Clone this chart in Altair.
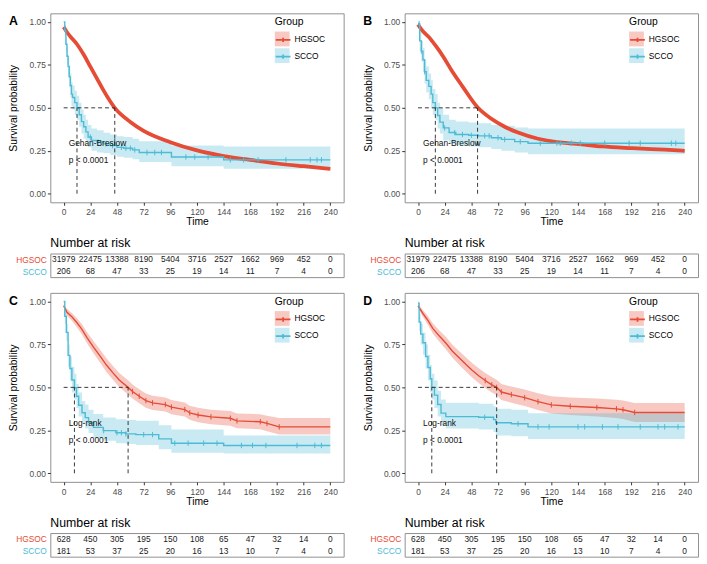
import altair as alt
import pandas as pd

RED = "#E64B35"
BLUE = "#4DBBD5"
GROUPS = ["HGSOC", "SCCO"]
TIME_TICKS = [0, 24, 48, 72, 96, 120, 144, 168, 192, 216, 240]
SURV_TICKS = [0, 0.25, 0.5, 0.75, 1.0]

# ---------------- Panel A ----------------
A_HGSOC_T = [0, 3, 6, 12, 18, 24, 30, 36, 46, 60, 72, 96, 120, 144, 168, 192, 216, 240]
A_HGSOC_S = [0.97, 0.94, 0.915, 0.87, 0.81, 0.74, 0.67, 0.60, 0.50, 0.418, 0.366, 0.30, 0.252, 0.219, 0.197, 0.176, 0.16, 0.145]
A_HGSOC_LO = [0.962, 0.932, 0.907, 0.862, 0.802, 0.732, 0.662, 0.592, 0.492, 0.410, 0.358, 0.292, 0.244, 0.211, 0.189, 0.168, 0.152, 0.137]
A_HGSOC_HI = [0.978, 0.948, 0.923, 0.878, 0.818, 0.748, 0.678, 0.608, 0.508, 0.426, 0.374, 0.308, 0.260, 0.227, 0.205, 0.184, 0.168, 0.153]

A_SCCO_T = [0, 1, 2, 3, 4, 5, 6, 7, 8, 10, 12, 14, 16, 18, 20, 22, 25, 30, 36, 42, 48, 54, 62, 68, 97, 144, 240]
A_SCCO_S = [1.00, 0.95, 0.87, 0.80, 0.74, 0.68, 0.63, 0.58, 0.56, 0.53, 0.50, 0.46, 0.42, 0.39, 0.36, 0.33, 0.31, 0.30, 0.29, 0.28, 0.27, 0.265, 0.255, 0.24, 0.214, 0.197, 0.197]
A_SCCO_LO = [1.00, 0.92, 0.83, 0.75, 0.68, 0.62, 0.56, 0.51, 0.49, 0.46, 0.43, 0.39, 0.35, 0.32, 0.30, 0.27, 0.25, 0.24, 0.235, 0.225, 0.215, 0.21, 0.20, 0.185, 0.16, 0.145, 0.145]
A_SCCO_HI = [1.00, 0.98, 0.91, 0.85, 0.80, 0.75, 0.70, 0.65, 0.63, 0.60, 0.57, 0.53, 0.49, 0.46, 0.43, 0.40, 0.38, 0.37, 0.355, 0.345, 0.335, 0.33, 0.32, 0.305, 0.28, 0.275, 0.275]
A_SCCO_CENS = [24, 31, 38, 44, 52, 56, 60, 64, 75, 82, 88, 110, 118, 130, 150, 162, 175, 200, 222, 228, 232]

# ---------------- Panel B ----------------
B_HGSOC_T = [0, 3, 10, 16, 22, 31, 40, 54, 66, 78, 90, 108, 125, 143, 166, 193, 222, 240]
B_HGSOC_S = [0.985, 0.956, 0.91, 0.86, 0.805, 0.71, 0.625, 0.50, 0.436, 0.39, 0.356, 0.32, 0.30, 0.29, 0.275, 0.265, 0.256, 0.25]
B_HGSOC_LO = [0.977, 0.948, 0.902, 0.852, 0.797, 0.702, 0.617, 0.492, 0.428, 0.382, 0.348, 0.312, 0.292, 0.282, 0.267, 0.257, 0.248, 0.242]
B_HGSOC_HI = [0.993, 0.964, 0.918, 0.868, 0.813, 0.718, 0.633, 0.508, 0.444, 0.398, 0.364, 0.328, 0.308, 0.298, 0.283, 0.273, 0.264, 0.258]

B_SCCO_T = [0, 1.5, 3, 4.4, 5.9, 7.4, 9.7, 11.8, 13.3, 15.6, 17.7, 19.7, 22.7, 28, 34, 45.6, 54.5, 66, 75, 87, 99, 240]
B_SCCO_S = [0.99, 0.89, 0.83, 0.78, 0.71, 0.66, 0.625, 0.58, 0.53, 0.50, 0.455, 0.417, 0.383, 0.356, 0.345, 0.34, 0.337, 0.326, 0.316, 0.303, 0.294, 0.294]
B_SCCO_LO = [0.98, 0.83, 0.77, 0.71, 0.64, 0.59, 0.55, 0.50, 0.46, 0.43, 0.38, 0.35, 0.31, 0.29, 0.28, 0.275, 0.27, 0.26, 0.25, 0.24, 0.23, 0.23]
B_SCCO_HI = [1.0, 0.94, 0.89, 0.85, 0.78, 0.74, 0.70, 0.66, 0.61, 0.58, 0.53, 0.50, 0.46, 0.43, 0.42, 0.415, 0.41, 0.40, 0.395, 0.385, 0.38, 0.38]
B_SCCO_CENS = [1, 3, 6, 24, 33, 40, 48, 60, 64, 72, 78, 92, 110, 125, 128, 138, 146, 168, 190, 200, 228, 232]

# ---------------- Panel C ----------------
C_HGSOC_T = [0, 3, 7.6, 12, 16.5, 21, 27, 33, 38.5, 44, 50, 58, 62, 68, 74, 80, 91.5, 97, 109, 113.5, 121, 132.6, 150, 156, 177, 183, 194, 240]
C_HGSOC_S = [0.975, 0.937, 0.909, 0.876, 0.838, 0.79, 0.733, 0.68, 0.63, 0.587, 0.543, 0.50, 0.476, 0.448, 0.423, 0.41, 0.40, 0.385, 0.371, 0.352, 0.339, 0.328, 0.32, 0.305, 0.30, 0.29, 0.27, 0.27]
C_HGSOC_LO = [0.963, 0.917, 0.886, 0.849, 0.808, 0.757, 0.697, 0.642, 0.59, 0.547, 0.502, 0.459, 0.435, 0.407, 0.382, 0.369, 0.359, 0.344, 0.33, 0.311, 0.297, 0.286, 0.277, 0.262, 0.256, 0.245, 0.225, 0.225]
C_HGSOC_HI = [0.985, 0.957, 0.932, 0.903, 0.868, 0.823, 0.769, 0.718, 0.67, 0.627, 0.584, 0.541, 0.517, 0.489, 0.464, 0.451, 0.441, 0.426, 0.412, 0.393, 0.381, 0.370, 0.363, 0.348, 0.344, 0.335, 0.322, 0.322]

C_SCCO_T = [0, 1, 2.4, 4, 5.6, 7.4, 9.7, 11.5, 13.5, 16.5, 19.4, 22.4, 26.8, 35.6, 47, 56, 65, 85.6, 97, 144, 240]
C_SCCO_S = [1.0, 0.914, 0.82, 0.686, 0.61, 0.543, 0.498, 0.448, 0.396, 0.352, 0.324, 0.295, 0.267, 0.248, 0.236, 0.229, 0.225, 0.20, 0.175, 0.162, 0.162]
C_SCCO_LO = [1.0, 0.87, 0.77, 0.62, 0.54, 0.47, 0.43, 0.38, 0.33, 0.29, 0.26, 0.235, 0.205, 0.19, 0.175, 0.17, 0.165, 0.14, 0.12, 0.115, 0.115]
C_SCCO_HI = [1.0, 0.95, 0.87, 0.75, 0.68, 0.62, 0.58, 0.52, 0.47, 0.42, 0.40, 0.37, 0.345, 0.325, 0.315, 0.31, 0.305, 0.28, 0.255, 0.22, 0.22]
C_SCCO_CENS = [36, 48, 52, 56, 72, 80, 100, 112, 126, 138, 160, 170, 182, 210, 226, 232]

# ---------------- Panel D ----------------
D_HGSOC_T = [0, 4.4, 8.9, 13.3, 19, 25, 31, 37, 43, 48.7, 54.6, 60.5, 66.4, 70.8, 75, 84, 96, 108, 120, 137, 161, 178.6, 184.5, 195, 240]
D_HGSOC_S = [0.975, 0.93, 0.89, 0.843, 0.80, 0.758, 0.71, 0.672, 0.634, 0.60, 0.568, 0.54, 0.515, 0.50, 0.473, 0.458, 0.44, 0.417, 0.398, 0.39, 0.383, 0.375, 0.37, 0.354, 0.354]
D_HGSOC_LO = [0.963, 0.91, 0.865, 0.813, 0.767, 0.722, 0.672, 0.632, 0.593, 0.558, 0.525, 0.496, 0.47, 0.455, 0.427, 0.411, 0.392, 0.368, 0.348, 0.339, 0.331, 0.322, 0.316, 0.299, 0.299]
D_HGSOC_HI = [0.987, 0.95, 0.915, 0.873, 0.833, 0.794, 0.748, 0.712, 0.675, 0.642, 0.611, 0.584, 0.56, 0.545, 0.519, 0.505, 0.488, 0.466, 0.448, 0.441, 0.435, 0.428, 0.424, 0.409, 0.409]

D_SCCO_T = [0, 1, 2.4, 4.4, 6.8, 8.9, 11, 12.4, 14.8, 17.7, 20.7, 25, 54.6, 68, 70, 84, 99, 240]
D_SCCO_S = [0.99, 0.88, 0.81, 0.76, 0.68, 0.616, 0.55, 0.50, 0.455, 0.40, 0.35, 0.33, 0.326, 0.312, 0.294, 0.288, 0.27, 0.27]
D_SCCO_LO = [0.97, 0.83, 0.75, 0.69, 0.61, 0.54, 0.47, 0.43, 0.38, 0.33, 0.28, 0.26, 0.255, 0.24, 0.22, 0.215, 0.20, 0.20]
D_SCCO_HI = [1.0, 0.93, 0.87, 0.82, 0.75, 0.69, 0.63, 0.58, 0.54, 0.48, 0.43, 0.41, 0.405, 0.39, 0.375, 0.37, 0.35, 0.35]
D_SCCO_CENS = [60, 90, 108, 118, 144, 150, 166, 180, 200, 216, 222, 234]

# ---------------- annotations / medians / risk table ----------------
METHODS = {"A": "Gehan-Breslow", "B": "Gehan-Breslow", "C": "Log-rank", "D": "Log-rank"}
P_TEXT = "p < 0.0001"
TEXT_X = 4.5
TEXT_Y = [0.295, 0.195]
MEDIANS = {"A": [12, 46], "B": [15.6, 53.6], "C": [9.7, 58], "D": [12.4, 70.8]}

RISK_AB_HGSOC = [31979, 22475, 13388, 8190, 5404, 3716, 2527, 1662, 969, 452, 0]
RISK_AB_SCCO = [206, 68, 47, 33, 25, 19, 14, 11, 7, 4, 0]
RISK_CD_HGSOC = [628, 450, 305, 195, 150, 108, 65, 47, 32, 14, 0]
RISK_CD_SCCO = [181, 53, 37, 25, 20, 16, 13, 10, 7, 4, 0]

CURVES = {
    ("A", "HGSOC"): (A_HGSOC_T, A_HGSOC_S, A_HGSOC_LO, A_HGSOC_HI, "smooth"),
    ("A", "SCCO"): (A_SCCO_T, A_SCCO_S, A_SCCO_LO, A_SCCO_HI, "step"),
    ("B", "HGSOC"): (B_HGSOC_T, B_HGSOC_S, B_HGSOC_LO, B_HGSOC_HI, "smooth"),
    ("B", "SCCO"): (B_SCCO_T, B_SCCO_S, B_SCCO_LO, B_SCCO_HI, "step"),
    ("C", "HGSOC"): (C_HGSOC_T, C_HGSOC_S, C_HGSOC_LO, C_HGSOC_HI, "linear"),
    ("C", "SCCO"): (C_SCCO_T, C_SCCO_S, C_SCCO_LO, C_SCCO_HI, "step"),
    ("D", "HGSOC"): (D_HGSOC_T, D_HGSOC_S, D_HGSOC_LO, D_HGSOC_HI, "linear"),
    ("D", "SCCO"): (D_SCCO_T, D_SCCO_S, D_SCCO_LO, D_SCCO_HI, "step"),
}
CENSORS = {"A": A_SCCO_CENS, "B": B_SCCO_CENS, "C": C_SCCO_CENS, "D": D_SCCO_CENS}
RISK = {
    "A": (RISK_AB_HGSOC, RISK_AB_SCCO), "B": (RISK_AB_HGSOC, RISK_AB_SCCO),
    "C": (RISK_CD_HGSOC, RISK_CD_SCCO), "D": (RISK_CD_HGSOC, RISK_CD_SCCO),
}


def step_value(ts, ss, t):
    v = ss[0]
    for tk, sk in zip(ts, ss):
        if tk <= t:
            v = sk
    return v


curve_rows, cens_rows = [], []
for (p, g), (ts, ss, lo, hi, kind) in CURVES.items():
    for t, s, l, h in zip(ts, ss, lo, hi):
        curve_rows.append({"panel": p, "group": g, "kind": kind, "time": t, "surv": s, "lo": l, "hi": h})
    if kind == "linear":
        for t, s in zip(ts, ss):
            if 60 <= t < 240:
                cens_rows.append({"panel": p, "group": g, "time": t, "surv": s})
for p, cl in CENSORS.items():
    ts, ss = CURVES[(p, "SCCO")][0], CURVES[(p, "SCCO")][1]
    for t in cl:
        cens_rows.append({"panel": p, "group": "SCCO", "time": t, "surv": step_value(ts, ss, t)})
curves_df = pd.DataFrame(curve_rows)
cens_df = pd.DataFrame(cens_rows)

W = 298
H = 192
TH = 24
INTERP = {"smooth": "monotone", "linear": "linear", "step": "step-after"}
X_SCALE = alt.Scale(domain=[-12, 252], nice=False, zero=False)
Y_SCALE = alt.Scale(domain=[-0.05, 1.05], nice=False, zero=False)


def xenc(field):
    return alt.X(f"{field}:Q", scale=X_SCALE,
                 axis=alt.Axis(values=TIME_TICKS, title="Time", titlePadding=1, labelPadding=2.5))


def yenc(field):
    return alt.Y(f"{field}:Q", scale=Y_SCALE,
                 axis=alt.Axis(values=SURV_TICKS, format=".2f", title="Survival probability",
                               titlePadding=10.5, labelPadding=2))


LEG_X, LEG_Y = 228, 4
TITLE_FS, TITLE_PAD = 10.5, 4
FILL_LEGEND = alt.Legend(title="Group", orient="none", legendX=LEG_X, legendY=LEG_Y,
                         symbolType="square", symbolSize=225, symbolOpacity=0.3,
                         symbolStrokeWidth=0, titleFontSize=TITLE_FS, titleFontWeight="normal",
                         labelFontSize=8.5, titlePadding=TITLE_PAD, rowPadding=2, labelOffset=5,
                         padding=0, titleColor="#000", labelColor="#000")
# line-with-censor-mark symbols drawn on top of the squares (no title, no labels)
STROKE_LEGEND = alt.Legend(title=None, orient="none", legendX=LEG_X,
                           legendY=LEG_Y + TITLE_FS + TITLE_PAD,
                           symbolType="M-1,0L1,0M0,-0.3L0,0.3", symbolSize=225, symbolOpacity=1,
                           symbolStrokeWidth=1.8, symbolFillColor="transparent",
                           labelFontSize=8.5, rowPadding=2, labelOffset=5, labelExpr="''",
                           padding=0)


def fill_enc():
    return alt.Fill("group:N", scale=alt.Scale(range=[RED, BLUE]), legend=FILL_LEGEND)


def stroke_enc():
    return alt.Stroke("group:N", scale=alt.Scale(domain=GROUPS, range=[RED, BLUE]), legend=STROKE_LEGEND)


def km_chart(p):
    cdf = curves_df[curves_df.panel == p]
    kinds = [k for k in ["smooth", "linear", "step"] if (cdf.kind == k).any()]
    bands, lines = [], []
    for k in kinds:
        sub = cdf[cdf.kind == k]
        bands.append(alt.Chart(sub).mark_area(interpolate=INTERP[k], opacity=0.3).encode(
            x=xenc("time"), y=yenc("lo"), y2=alt.Y2("hi:Q"), fill=fill_enc()))
        lines.append(alt.Chart(sub).mark_line(interpolate=INTERP[k],
                                              strokeWidth=3.8 if k == "smooth" else 1.4).encode(
            x=xenc("time"), y=yenc("surv"), stroke=stroke_enc()))
    cens = alt.Chart(cens_df[cens_df.panel == p]).mark_point(
        shape="M0,-1L0,1", filled=False, size=30, strokeWidth=1, opacity=1).encode(
        x=xenc("time"), y=yenc("surv"), stroke=stroke_enc())
    meds = MEDIANS[p]
    hdf = pd.DataFrame({"x": [0], "x2": [max(meds)], "y": [0.5]})
    vdf = pd.DataFrame({"x": meds, "y": [0.0] * len(meds), "y2": [0.5] * len(meds)})
    hrule = alt.Chart(hdf).mark_rule(strokeDash=[4, 3], color="#222", strokeWidth=0.9).encode(
        x=xenc("x"), x2=alt.X2("x2:Q"), y=yenc("y"))
    vrule = alt.Chart(vdf).mark_rule(strokeDash=[4, 3], color="#222", strokeWidth=0.9).encode(
        x=xenc("x"), y=yenc("y"), y2=alt.Y2("y2:Q"))
    tdf = pd.DataFrame({"x": [TEXT_X, TEXT_X], "y": TEXT_Y, "label": [METHODS[p], P_TEXT]})
    txt = alt.Chart(tdf).mark_text(align="left", baseline="middle", fontSize=8.5, color="#111").encode(
        x=xenc("x"), y=yenc("y"), text="label:N")
    letter = alt.Chart(pd.DataFrame({"letter": [p]})).mark_text(
        align="left", baseline="top", fontSize=12.5, fontWeight="bold", color="#000").encode(
        x=alt.value(-42), y=alt.value(2), text="letter:N")
    return alt.layer(*bands, *lines, cens, hrule, vrule, txt, letter).properties(width=W, height=H)


def risk_chart(p):
    hg, sc = RISK[p]
    rows = [{"group": "HGSOC", "time": t, "n": str(v)} for t, v in zip(TIME_TICKS, hg)]
    rows += [{"group": "SCCO", "time": t, "n": str(v)} for t, v in zip(TIME_TICKS, sc)]
    rdf = pd.DataFrame(rows)
    return alt.Chart(rdf).mark_text(fontSize=8.5, color="#1a1a1a", baseline="middle").encode(
        x=alt.X("time:Q", scale=X_SCALE, axis=None),
        y=alt.Y("group:N", scale=alt.Scale(type="point", domain=GROUPS, padding=0.5),
                axis=alt.Axis(title=None, ticks=False, domain=False, labelFontSize=8.5, labelPadding=4,
                              labelColor=alt.condition("datum.value == 'HGSOC'", alt.value(RED), alt.value(BLUE)))),
        text="n:N").properties(
        width=W, height=TH,
        title=alt.TitleParams(text="Number at risk", anchor="start", frame="group", fontSize=12.5,
                              fontWeight="normal", offset=4, color="#000"))


def cell(p):
    return alt.vconcat(km_chart(p), risk_chart(p), spacing=52, bounds="flush").resolve_scale(
        fill="independent", stroke="independent")


row1 = alt.hconcat(cell("A"), cell("B"), spacing=18).resolve_scale(fill="independent", stroke="independent")
row2 = alt.hconcat(cell("C"), cell("D"), spacing=18).resolve_scale(fill="independent", stroke="independent")
chart = alt.vconcat(row1, row2, spacing=14).resolve_scale(
    fill="independent", stroke="independent"
).properties(padding=0).configure(
    font="Liberation Sans"
).configure_view(stroke="#8f8f8f", strokeWidth=1).configure_axis(
    labelFontSize=8.5, labelColor="#4d4d4d", titleFontSize=10.5, titleFontWeight="normal",
    titleColor="#000", tickColor="#333", tickSize=3, domain=False, grid=False
)

chart.save("out.html", embed_options={"renderer": "svg", "actions": False})
